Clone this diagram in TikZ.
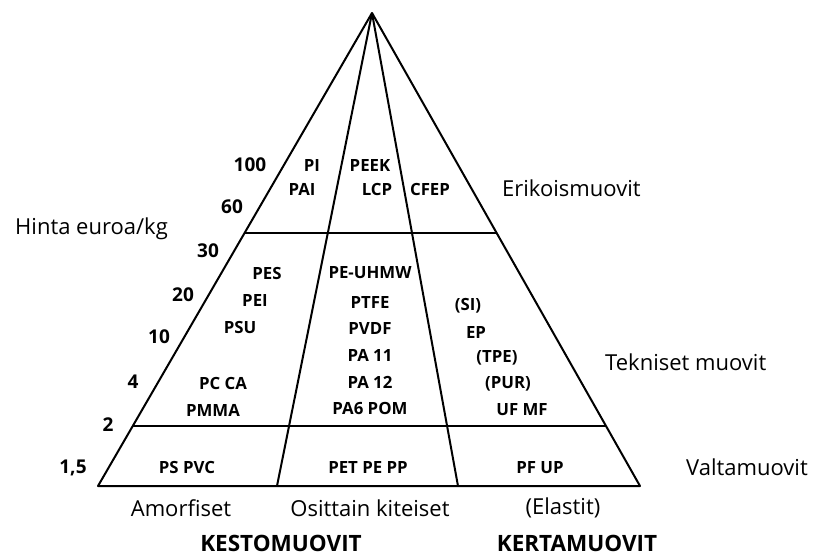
\documentclass[tikz,border=0pt]{standalone}
\usepackage{fontspec}
\setmainfont{Open Sans}
\usetikzlibrary{calc}

\begin{document}
\begin{tikzpicture}[x = 1pt, y = -1pt,
		edge/.style = {line width = 2pt, line join = round},
		lbl/.style = {font = \fontsize{22}{26}\selectfont, inner sep = 0pt},
		head/.style = {font = \fontsize{22.5}{26}\selectfont\bfseries, inner sep = 0pt},
		num/.style = {font = \fontsize{19}{22}\selectfont\bfseries, inner sep = 0pt},
		cell/.style = {font = \fontsize{16.8}{20}\selectfont\bfseries, inner sep = 0pt}]
					\def\tTop{0.4651};
					\def\tLow{0.8732};

					\useasboundingbox (0,0) rectangle (813,557);

					\begin{scope}
						\coordinate (apex) at (372,13);
						\coordinate (bl) at (98,486);
						\coordinate (br) at (640,486);
						\coordinate (il) at (277,486);
						\coordinate (ir) at (458,486);
						\coordinate (topL) at ($(apex)!\tTop!(bl)$);
						\coordinate (topR) at ($(apex)!\tTop!(br)$);
						\coordinate (lowL) at ($(apex)!\tLow!(bl)$);
						\coordinate (lowR) at ($(apex)!\tLow!(br)$);
					\end{scope}

					\begin{scope}[edge]
						\draw (apex) -- (bl) -- (br) -- cycle;
						\draw (apex) -- (il);
						\draw (apex) -- (ir);
						\draw (topL) -- (topR);
						\draw (lowL) -- (lowR);
					\end{scope}

					% hinta
					\begin{scope}[num]
						\node (n100) at (250,165) {100};
						\node (n60) at (232,207) {60};
						\node (n30) at (208,251) {30};
						\node (n20) at (183,295) {20};
						\node (n10) at (159,337) {10};
						\node (n4) at (133,382) {4};
						\node (n2) at (108,425) {2};
						\node (n15) at (73,468) {1,5};
					\end{scope}
					\node [lbl, anchor = west] (hinta) at (15,229) {Hinta euroa/kg};

					% erikoismuovit
					\begin{scope}[cell]
						\node (pi) at (312,165) {PI};
						\node (pai) at (302,189) {PAI};
						\node (peek) at (370,165) {PEEK};
						\node (lcp) at (377,189) {LCP};
						\node (cfep) at (430,189) {CFEP};
					\end{scope}
					\node [lbl, anchor = west] (erikois) at (502,188) {Erikoismuovit};

					% tekniset muovit
					\begin{scope}[cell]
						\node (pes) at (267,273) {PES};
						\node (pei) at (255,300) {PEI};
						\node (psu) at (240,327) {PSU};
						\node (pcca) at (223,383) {PC CA};
						\node (pmma) at (213,410) {PMMA};
						\node (uhmw) at (370,273) {PE-UHMW};
						\node (ptfe) at (370,302) {PTFE};
						\node (pvdf) at (370,328) {PVDF};
						\node (pa11) at (370,355) {PA 11};
						\node (pa12) at (370,382) {PA 12};
						\node (pom) at (370,408) {PA6 POM};
						\node (si) at (468,306) {(SI)};
						\node (ep) at (476,332) {EP};
						\node (tpe) at (497,358) {(TPE)};
						\node (pur) at (508,384) {(PUR)};
						\node (ufmf) at (522,410) {UF MF};
					\end{scope}
					\node [lbl, anchor = west] (tekniset) at (605,362) {Tekniset muovit};

					% valtamuovit
					\begin{scope}[cell]
						\node (pspvc) at (187,467) {PS PVC};
						\node (pet) at (368,467) {PET PE PP};
						\node (pfup) at (540,468) {PF UP};
					\end{scope}
					\node [lbl, anchor = east] (valta) at (808,467) {Valtamuovit};

					\begin{scope}[lbl]
						\node (amorf) at (181,508) {Amorfiset};
						\node (osit) at (370,508) {Osittain kiteiset};
						\node (elast) at (563,508) {(Elastit)};
					\end{scope}
					\node [head] (kesto) at (281,543) {KESTOMUOVIT};
					\node [head] (kerta) at (577,543) {KERTAMUOVIT};
				\end{tikzpicture}
\end{document}
